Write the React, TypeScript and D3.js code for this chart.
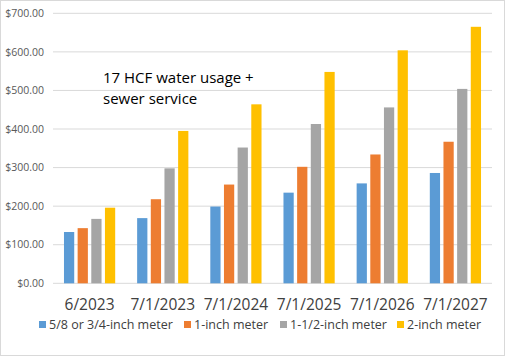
import React from "react";
import * as d3 from "d3";

const categories = ["6/2023", "7/1/2023", "7/1/2024", "7/1/2025", "7/1/2026", "7/1/2027"];
const seriesNames = ["5/8 or 3/4-inch meter", "1-inch meter", "1-1/2-inch meter", "2-inch meter"];
const meter58 = [133, 169, 199, 235, 259, 286];
const meter1 = [143, 218, 256, 302, 334, 367];
const meter15 = [167, 298, 352, 413, 456, 504];
const meter2 = [196, 395, 464, 548, 604, 665];
const yTicks = [0, 100, 200, 300, 400, 500, 600, 700];
const annotation = ["17 HCF water usage +", "sewer service"];

const colors = ["#5B9BD5", "#ED7D31", "#A5A5A5", "#FFC000"];
const W = 505, H = 356;
const FONT = "'Open Sans', sans-serif";

export default function App() {
  const series = [meter58, meter1, meter15, meter2];
  const x0 = d3.scaleBand<string>().domain(categories).range([53, 492]).paddingInner(0.3).paddingOuter(0.15);
  const x1 = d3.scaleBand<number>().domain([0, 1, 2, 3]).range([0, x0.bandwidth()]).paddingInner(0.25);
  const y = d3.scaleLinear().domain([0, 700]).range([283.3, 13.3]);
  const fmt = (v: number) => "$" + d3.format(",.2f")(v);
  const legendX = [39, 184, 280, 397];

  return (
    <svg width={W} height={H} style={{ position: "absolute", left: 0, top: 0, background: "#fff" }} fontFamily={FONT}>
      <rect x={0.5} y={0.5} width={W - 1} height={H - 1} fill="#fff" stroke="#d9d9d9" />
      {yTicks.map((t) => (
        <g key={t}>
          <line x1={53} x2={492} y1={y(t)} y2={y(t)} stroke="#d9d9d9" strokeWidth={1} />
          <text x={44} y={y(t)} dy="0.35em" textAnchor="end" fontSize={10.5} fill="#595959">{fmt(t)}</text>
        </g>
      ))}
      {categories.map((c, i) => (
        <g key={c} transform={`translate(${x0(c)},0)`}>
          {series.map((s, j) => (
            <rect key={j} x={x1(j)} y={y(s[i])} width={x1.bandwidth()} height={y(0) - y(s[i])} fill={colors[j]} />
          ))}
          <text x={x0.bandwidth() / 2} y={310} textAnchor="middle" fontSize={15.5} fill="#404040">{c}</text>
        </g>
      ))}
      {seriesNames.map((n, j) => (
        <g key={n} transform={`translate(${legendX[j]},0)`}>
          <rect x={0} y={321} width={7} height={7} fill={colors[j]} />
          <text x={10} y={329} fontSize={12.5} fill="#404040">{n}</text>
        </g>
      ))}
      <text x={103} y={83} fontSize={15} fill="#000">
        {annotation.map((l, k) => (
          <tspan key={k} x={103} dy={k === 0 ? 0 : 21}>{l}</tspan>
        ))}
      </text>
    </svg>
  );
}
